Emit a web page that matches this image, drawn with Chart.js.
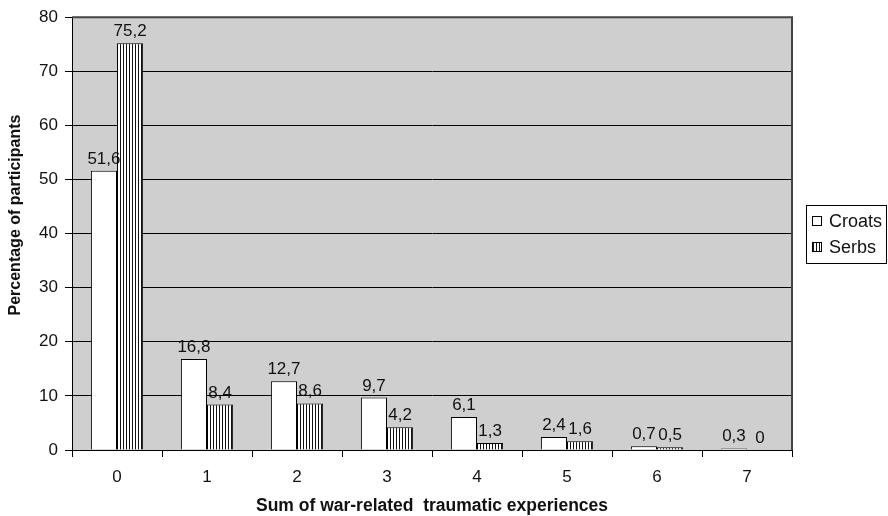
<!DOCTYPE html>
<html><head><meta charset="utf-8">
<script src="https://cdn.jsdelivr.net/npm/chart.js@4.4.1/dist/chart.umd.min.js"></script>
<style>html,body{margin:0;padding:0;background:#fff}#wrap{width:888px;height:516px;position:relative}</style>
</head><body><div id="wrap"><canvas id="c" width="888" height="516"></canvas></div>
<script>
const categories = ['0','1','2','3','4','5','6','7'];
const croats = [51.6, 16.8, 12.7, 9.7, 6.1, 2.4, 0.7, 0.3];
const serbs = [75.2, 8.4, 8.6, 4.2, 1.3, 1.6, 0.5, 0];
const yTicks = [0, 10, 20, 30, 40, 50, 60, 70, 80];
const seriesNames = ['Croats', 'Serbs'];
const xTitle = 'Sum of war-related  traumatic experiences';
const yTitle = 'Percentage of participants';

const FONT = "'Liberation Sans', Arial, sans-serif";
const FS = 17;

function makeStripes() {
  const c = document.createElement('canvas');
  c.width = 3; c.height = 8;
  const g = c.getContext('2d');
  g.fillStyle = '#fff'; g.fillRect(0, 0, 3, 8);
  g.fillStyle = '#111'; g.fillRect(0, 0, 1, 8);
  return g.createPattern(c, 'repeat');
}
const stripes = makeStripes();

const bgPlugin = {
  id: 'bg',
  beforeDraw(chart) {
    const {ctx, chartArea: a} = chart;
    ctx.save();
    ctx.fillStyle = '#cfcfcf';
    ctx.fillRect(a.left, a.top, a.right - a.left, a.bottom - a.top);
    ctx.restore();
  },
  afterDatasetsDraw(chart) {
    const {ctx, chartArea: a} = chart;
    ctx.save();
    // right and top frame
    ctx.strokeStyle = '#444';
    ctx.lineWidth = 2;
    ctx.beginPath();
    ctx.moveTo(a.left, a.top);
    ctx.lineTo(a.right, a.top);
    ctx.lineTo(a.right, a.bottom);
    ctx.stroke();
    // data labels
    ctx.fillStyle = '#111';
    ctx.font = FS + 'px ' + FONT;
    ctx.textAlign = 'center';
    ctx.textBaseline = 'alphabetic';
    chart.data.datasets.forEach((ds, di) => {
      const meta = chart.getDatasetMeta(di);
      meta.data.forEach((el, i) => {
        const v = ds.data[i];
        ctx.fillText(String(v).replace('.', ','), el.x, el.y - 7);
      });
    });
    // y title
    ctx.save();
    ctx.translate(16, 215);
    ctx.rotate(-Math.PI / 2);
    ctx.font = 'bold 16px ' + FONT;
    ctx.textAlign = 'center';
    ctx.textBaseline = 'middle';
    ctx.fillText(yTitle, 0, 0);
    ctx.restore();
    // legend
    const lx = 806, ly = 205, lw = 81, lh = 58;
    ctx.fillStyle = '#fff';
    ctx.fillRect(lx, ly, lw, lh);
    ctx.strokeStyle = '#000';
    ctx.lineWidth = 1;
    ctx.strokeRect(lx + 0.5, ly + 0.5, lw - 1, lh);
    ctx.font = '18px ' + FONT;
    chart.data.datasets.forEach((ds, di) => {
      const cy = ly + 16 + di * 26;
      ctx.fillStyle = ds.backgroundColor;
      ctx.fillRect(812, cy - 5, 10, 10);
      ctx.strokeStyle = '#000';
      ctx.strokeRect(812.5, cy - 4.5, 9, 9);
      ctx.fillStyle = '#111';
      ctx.textAlign = 'left';
      ctx.textBaseline = 'middle';
      ctx.fillText(ds.label, 829, cy + 1);
    });
    ctx.restore();
  }
};

new Chart(document.getElementById('c'), {
  type: 'bar',
  data: {
    labels: categories,
    datasets: [
      {label: seriesNames[0], data: croats, backgroundColor: '#fff', borderColor: '#000', borderWidth: 1,
       categoryPercentage: 0.58, barPercentage: 1.0},
      {label: seriesNames[1], data: serbs, backgroundColor: stripes, borderColor: '#000', borderWidth: 1,
       categoryPercentage: 0.58, barPercentage: 1.0}
    ]
  },
  options: {
    responsive: false,
    animation: false,
    devicePixelRatio: 1,
    layout: {padding: {left: 0, top: 16, right: 96, bottom: 0}},
    plugins: {legend: {display: false}, tooltip: {enabled: false}},
    scales: {
      x: {
        grid: {display: true, drawOnChartArea: false, tickLength: 7, color: '#000', offset: true},
        border: {color: '#000', width: 1},
        ticks: {color: '#111', font: {family: FONT, size: FS}, padding: 10},
        title: {display: true, text: xTitle, color: '#111', font: {family: FONT, size: 17.5, weight: 'bold', lineHeight: 1.1}, padding: {top: 0, bottom: 0}},
        afterFit(s) { s.height = 66; }
      },
      y: {
        min: 0, max: 80,
        afterBuildTicks(s) { s.ticks = yTicks.map(v => ({value: v})); },
        grid: {color: '#000', lineWidth: 1, tickLength: 7},
        border: {color: '#000', width: 1},
        ticks: {color: '#111', font: {family: FONT, size: FS}, padding: 7},
        title: {display: false},
        afterFit(s) { s.width = 72; }
      }
    }
  },
  plugins: [bgPlugin]
});
</script>
</body></html>
